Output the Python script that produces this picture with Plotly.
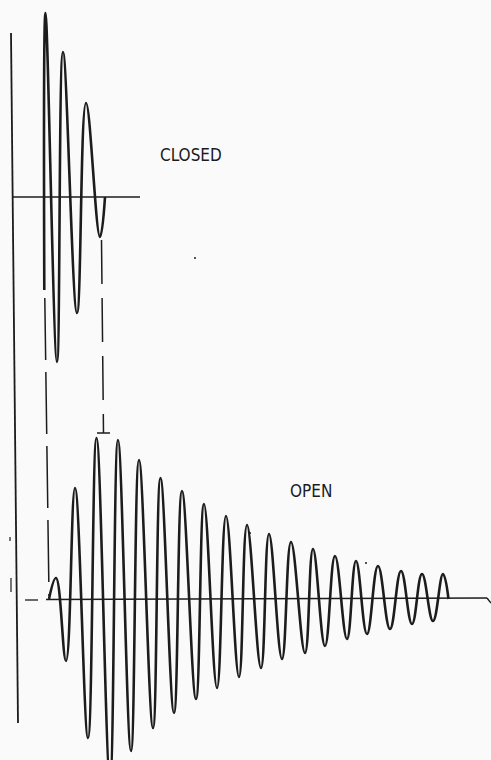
import plotly.graph_objects as go

# ---- data (time in arbitrary units, amplitude in arbitrary units) ----
closed_t = [44.3, 45.5, 57, 63, 77, 86, 100, 105]
closed_a = [-93, 184, -165, 145, -116, 94, -40, 0]

open_t = [49, 56, 66, 75, 88, 96.5, 110, 118, 131, 139, 153, 160.5, 174, 182, 196, 204,
          217, 226, 239, 247, 261, 269, 282, 291, 305, 313, 325, 335, 347, 356, 367, 378,
          390, 401, 412, 422, 433, 443, 448.5]
open_a = [0, 21, -62, 111, -139, 161, -180, 159, -152, 139, -129, 121, -114, 108, -100, 95,
          -89, 83, -78, 74, -69, 65, -60, 57, -54, 50, -47, 43, -40, 38, -35, 33,
          -30, 28, -25, 25, -22, 25, 0]

labels = ["CLOSED", "OPEN"]

W, H = 491, 760
CLOSED_BASE = 197   # pixel row of closed baseline
OPEN_BASE = 599     # pixel row of open baseline
INK = "#1c1c1c"
BG = "#fafafa"

fig = go.Figure()

fig.add_trace(go.Scatter(x=closed_t, y=closed_a, mode="lines", yaxis="y",
                         line=dict(color=INK, width=2.6, shape="spline", smoothing=1.2),
                         hoverinfo="skip", showlegend=False))
fig.add_trace(go.Scatter(x=open_t, y=open_a, mode="lines", yaxis="y2",
                         line=dict(color=INK, width=2.6, shape="spline", smoothing=1.2),
                         hoverinfo="skip", showlegend=False))

def py(p):
    return 1 - p / H

LONGDASH = "62px,12px"

shapes = []
# left vertical reference line
shapes.append(dict(type="line", xref="x", yref="paper", x0=11, y0=py(33), x1=18, y1=py(723),
                   line=dict(color=INK, width=1.8)))
# closed baseline
shapes.append(dict(type="line", xref="x", yref="y", x0=13, y0=0, x1=140, y1=0,
                   line=dict(color=INK, width=1.4)))
# open baseline
shapes.append(dict(type="line", xref="x", yref="y2", x0=25, y0=-1, x1=38, y1=-1,
                   line=dict(color=INK, width=1.3)))
shapes.append(dict(type="line", xref="x", yref="y2", x0=46, y0=-0.5, x1=487, y1=1,
                   line=dict(color=INK, width=1.4)))
shapes.append(dict(type="line", xref="x", yref="y2", x0=487, y0=1, x1=491, y1=-4,
                   line=dict(color=INK, width=1.4)))
# dashed connector from closed start to open start
shapes.append(dict(type="line", xref="x", yref="paper", x0=closed_t[0] + 0.5,
                   y0=py(CLOSED_BASE - closed_a[0] + 8), x1=open_t[0], y1=py(OPEN_BASE - 3),
                   line=dict(color=INK, width=1.5, dash=LONGDASH)))
# dashed connector from last closed trough to max open amplitude with T-bar
tb = OPEN_BASE - max(open_a) - 5
shapes.append(dict(type="line", xref="x", yref="paper", x0=closed_t[-2] + 1.5,
                   y0=py(CLOSED_BASE - closed_a[-2] + 3), x1=closed_t[-2] + 3.5, y1=py(tb),
                   line=dict(color=INK, width=1.5, dash="44px,14px")))
shapes.append(dict(type="line", xref="x", yref="paper", x0=97, y0=py(tb), x1=110, y1=py(tb),
                   line=dict(color=INK, width=1.5)))
# small marks
shapes.append(dict(type="line", xref="x", yref="paper", x0=10, y0=py(537), x1=10, y1=py(541),
                   line=dict(color=INK, width=1.2)))
shapes.append(dict(type="line", xref="x", yref="paper", x0=11, y0=py(578), x1=11, y1=py(592),
                   line=dict(color=INK, width=1.2)))
for (cx, cy) in [(195, 258), (366, 563), (250, 533)]:
    shapes.append(dict(type="circle", xref="x", yref="paper", x0=cx - 1, x1=cx + 1,
                       y0=py(cy + 1), y1=py(cy - 1), fillcolor=INK, line=dict(width=0)))

font = dict(family="Liberation Sans Narrow, DejaVu Sans Condensed, Arial Narrow, sans-serif",
            size=17, color=INK)
annotations = [
    dict(x=191, y=py(143), xref="x", yref="paper", text=labels[0], showarrow=False, font=font),
    dict(x=310.5, y=py(491), xref="x", yref="paper", text=labels[1], showarrow=False, font=font),
]

fig.update_layout(
    width=W, height=H,
    margin=dict(l=0, r=0, t=0, b=0),
    paper_bgcolor=BG, plot_bgcolor=BG,
    xaxis=dict(range=[0, W], visible=False, fixedrange=True),
    yaxis=dict(range=[CLOSED_BASE - H, CLOSED_BASE], visible=False, fixedrange=True),
    yaxis2=dict(range=[OPEN_BASE - H, OPEN_BASE], visible=False, overlaying="y",
                fixedrange=True),
    shapes=shapes, annotations=annotations,
)

fig.write_html("out.html", config={"displayModeBar": False, "staticPlot": True},
               post_script="document.body.style.margin='0';document.body.style.background='%s';" % BG)
